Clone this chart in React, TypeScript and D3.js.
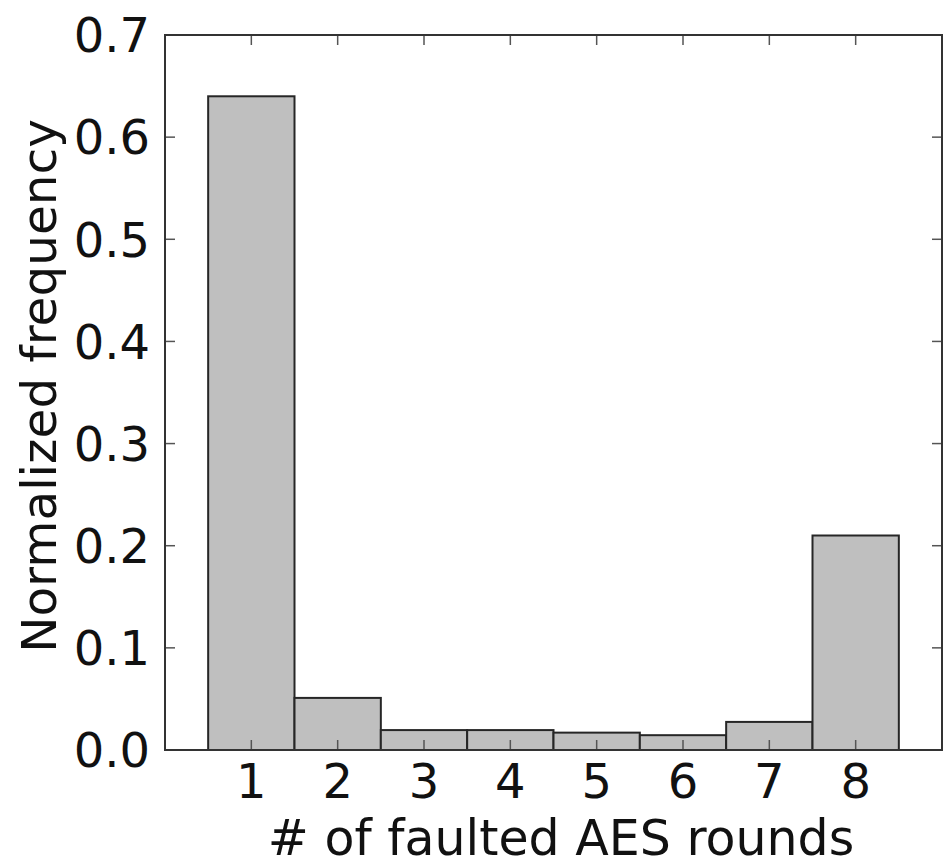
import React, { useEffect, useRef } from "react";
import * as d3 from "d3";

const rounds = [1, 2, 3, 4, 5, 6, 7, 8];
const frequency = [0.64, 0.051, 0.0195, 0.0195, 0.017, 0.0145, 0.0275, 0.21];
const yTicks = [0.0, 0.1, 0.2, 0.3, 0.4, 0.5, 0.6, 0.7];

const App = () => {
  const ref = useRef<SVGSVGElement>(null);

  useEffect(() => {
    const svg = d3.select(ref.current);
    svg.selectAll("*").remove();

    const width = 945;
    const height = 867;
    const margin = { top: 35, right: 3, bottom: 117, left: 165 };
    const font = "DejaVu Sans, sans-serif";

    const x = d3.scaleLinear().domain([0, 9]).range([margin.left, width - margin.right]);
    const y = d3.scaleLinear().domain([0, 0.7]).range([height - margin.bottom, margin.top]);

    const data = rounds.map((r, i) => ({ r, v: frequency[i] }));

    // bars (histogram style, width 1)
    svg
      .append("g")
      .selectAll("rect")
      .data(data)
      .enter()
      .append("rect")
      .attr("x", (d) => x(d.r - 0.5))
      .attr("y", (d) => y(d.v))
      .attr("width", (d) => x(d.r + 0.5) - x(d.r - 0.5))
      .attr("height", (d) => y(0) - y(d.v))
      .attr("fill", "#bfbfbf")
      .attr("stroke", "#262626")
      .attr("stroke-width", 2);

    const tickLen = 10;
    const tickColor = "#555";

    // x ticks bottom + top (inside)
    const xt = svg.append("g");
    rounds.forEach((r) => {
      xt.append("line")
        .attr("x1", x(r)).attr("x2", x(r))
        .attr("y1", y(0)).attr("y2", y(0) - tickLen)
        .attr("stroke", tickColor).attr("stroke-width", 1.5);
      xt.append("line")
        .attr("x1", x(r)).attr("x2", x(r))
        .attr("y1", y(0.7)).attr("y2", y(0.7) + tickLen)
        .attr("stroke", tickColor).attr("stroke-width", 1.5);
      xt.append("text")
        .attr("x", x(r))
        .attr("y", y(0) + 48)
        .attr("text-anchor", "middle")
        .style("font-family", font)
        .style("font-size", "48px")
        .attr("fill", "#111")
        .text(r);
    });

    // y ticks left + right (inside)
    const yt = svg.append("g");
    yTicks.forEach((t) => {
      yt.append("line")
        .attr("x1", x(0)).attr("x2", x(0) + tickLen)
        .attr("y1", y(t)).attr("y2", y(t))
        .attr("stroke", tickColor).attr("stroke-width", 1.5);
      yt.append("line")
        .attr("x1", x(9)).attr("x2", x(9) - tickLen)
        .attr("y1", y(t)).attr("y2", y(t))
        .attr("stroke", tickColor).attr("stroke-width", 1.5);
      yt.append("text")
        .attr("x", x(0) - 15)
        .attr("y", y(t))
        .attr("dy", "0.36em")
        .attr("text-anchor", "end")
        .style("font-family", font)
        .style("font-size", "48px")
        .attr("fill", "#111")
        .text(d3.format(".1f")(t));
    });

    // frame
    svg
      .append("rect")
      .attr("x", x(0))
      .attr("y", y(0.7))
      .attr("width", x(9) - x(0))
      .attr("height", y(0) - y(0.7))
      .attr("fill", "none")
      .attr("stroke", "#333")
      .attr("stroke-width", 2);

    // axis labels
    svg
      .append("text")
      .attr("x", 561)
      .attr("y", 855)
      .attr("text-anchor", "middle")
      .style("font-family", font)
      .style("font-size", "49px")
      .attr("fill", "#111")
      .text("# of faulted AES rounds");

    svg
      .append("text")
      .attr("transform", `translate(56,386) rotate(-90)`)
      .attr("text-anchor", "middle")
      .style("font-family", font)
      .style("font-size", "48.5px")
      .attr("fill", "#111")
      .text("Normalized frequency");
  }, []);

  return (
    <svg
      ref={ref}
      width={945}
      height={867}
      style={{ position: "absolute", left: 0, top: 0, background: "#fff" }}
    />
  );
};

export default App;
